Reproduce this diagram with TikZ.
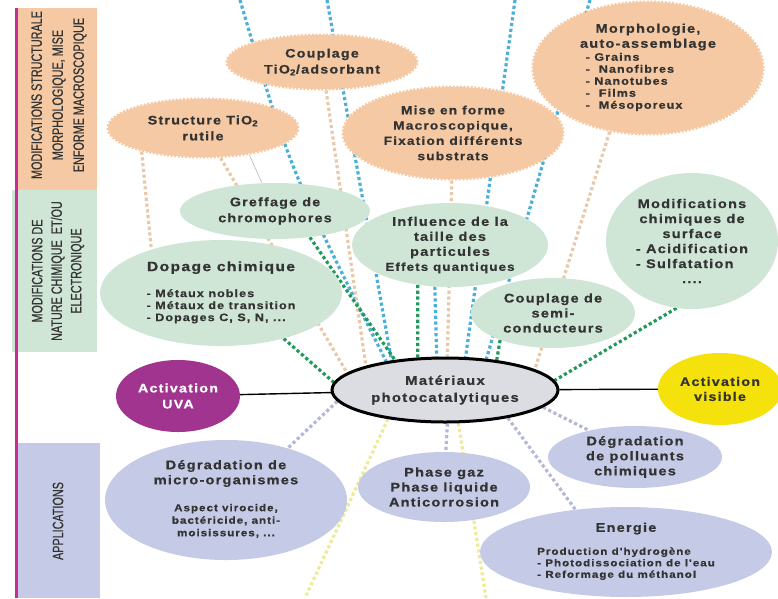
\documentclass[tikz,border=0pt]{standalone}
\usepackage{fontspec}
\setmainfont{Liberation Sans}
\newfontfamily\bubblefont{Liberation Sans}[FakeStretch=1.16,LetterSpace=10,BoldFeatures={FakeBold=0.7}]
\newfontfamily\bandfont{Liberation Sans}[FakeStretch=0.72,FakeBold=0.5]
\usetikzlibrary{shapes.geometric}
\pgfdeclarelayer{links}
\pgfsetlayers{links,main}

\definecolor{peach}{HTML}{F5C9A3}
\definecolor{mint}{HTML}{CFE6D6}
\definecolor{lav}{HTML}{C5CAE6}
\definecolor{plum}{HTML}{A0348F}
\definecolor{sun}{HTML}{F5E10C}
\definecolor{ink}{HTML}{333333}
\definecolor{sky}{HTML}{4BAFD8}
\definecolor{leaf}{HTML}{1E9A5A}
\definecolor{tanline}{HTML}{E9C9AB}
\definecolor{lilac}{HTML}{B4B8D6}
\definecolor{straw}{HTML}{EFEA96}
\definecolor{rose}{HTML}{C72C94}
\definecolor{core}{HTML}{DCDDE2}

\begin{document}
\begin{tikzpicture}[x=1pt,y=-1pt,
  bubble/.style={ellipse, inner sep=0pt, align=center, text=ink,
    font=\bubblefont\bfseries\fontsize{12.5}{15}\selectfont},
  orangeb/.style={bubble, fill=peach, draw=peach, line width=3pt,
    dash pattern=on 2pt off 1.6pt},
  greenb/.style={bubble, fill=mint},
  blueb/.style={bubble, fill=lav},
  bandtext/.style={rotate=90, align=center, text=ink, inner sep=0pt,
    font=\bandfont\fontsize{15}{21}\selectfont},
  link/.style={line width=3.2pt, dash pattern=on 3.2pt off 2.6pt},
  bar/.style={line width=1.4pt, black}]

\useasboundingbox (0,0) rectangle (778,598);
\clip (0,0) rectangle (778,598);

% side bands with their headings
\fill[peach] (16,8) rectangle (97,190);
\fill[mint] (12,190) rectangle (97,352);
\fill[lav] (16,443) rectangle (100,598);
\draw[rose, line width=2.6pt] (16.5,8) -- (16.5,598);

\node[bandtext] (bandA) at (59,95)
  {MODIFICATIONS STRUCTURALE\\MORPHOLOGIQUE, MISE\\ENFORME MACROSCOPIQUE};
\node[bandtext, font=\bandfont\fontsize{15}{19.5}\selectfont] (bandB) at (58,271)
  {MODIFICATIONS DE\\NATURE CHIMIQUE~ ET/OU\\ELECTRONIQUE};
\node[bandtext] (bandC) at (58,521) {APPLICATIONS};

% structural / morphological modifications
\node[orangeb, minimum width=230pt, minimum height=132pt] (morph) at (648,68)
  {Morphologie,\\auto-assemblage\\[-2pt]{\fontsize{10.8}{12}\selectfont
   \begin{tabular}[t]{@{}l@{}}- Grains\\-~~Nanofibres\\- Nanotubes\\-~~Films\\-~~Mésoporeux\end{tabular}}\hspace*{28pt}};
\node[orangeb, minimum width=220pt, minimum height=92pt,
  font=\bubblefont\bfseries\fontsize{11.8}{15.3}\selectfont] (mise) at (453,133)
  {Mise en forme\\Macroscopique,\\Fixation différents\\substrats};
\node[orangeb, minimum width=190pt, minimum height=54pt,
  font=\bubblefont\bfseries\fontsize{12.3}{16}\selectfont] (coupt) at (322,62)
  {Couplage\\TiO\textsubscript{2}/adsorbant};
\node[orangeb, minimum width=190pt, minimum height=58pt,
  font=\bubblefont\bfseries\fontsize{12.3}{16}\selectfont] (struct) at (203,128)
  {Structure TiO\textsubscript{2}\\rutile};

% chemical / electronic modifications
\node[greenb, minimum width=190pt, minimum height=56pt,
  font=\bubblefont\bfseries\fontsize{12.3}{16}\selectfont] (greff) at (275,211)
  {Greffage de\\chromophores};
\node[greenb, minimum width=242pt, minimum height=106pt,
  font=\bubblefont\bfseries\fontsize{13.5}{16}\selectfont] (dop) at (221,293)
  {Dopage chimique\\[10pt]{\fontsize{10.8}{12}\selectfont
   \begin{tabular}[t]{@{}l@{}}- Métaux nobles\\- Métaux de transition\\- Dopages C, S, N, ...\end{tabular}}};
\node[greenb, minimum width=196pt, minimum height=84pt] (infl) at (450,245)
  {Influence de la\\taille des\\particules\\{\fontsize{11.5}{14}\selectfont Effets quantiques}};
\node[greenb, minimum width=164pt, minimum height=70pt] (semi) at (553,313)
  {Couplage de\\semi-\\conducteurs};
\node[greenb, minimum width=172pt, minimum height=136pt] (modif) at (692,241)
  {Modifications\\chimiques de\\surface\\- Acidification\\\rlap{- Sulfatation}\phantom{- Acidification}\\....};

% activation and central material
\node[bubble, fill=plum, text=white, minimum width=124pt, minimum height=72pt,
  font=\bubblefont\bfseries\fontsize{12.3}{16}\selectfont] (uva) at (178,396)
  {Activation\\UVA};
\node[bubble, fill=sun, minimum width=124pt, minimum height=72pt,
  font=\bubblefont\bfseries\fontsize{12.3}{15}\selectfont] (vis) at (720,389)
  {Activation\\visible};
\node[bubble, fill=core, draw=black, line width=3pt, minimum width=226pt,
  minimum height=64pt, font=\bubblefont\bfseries\fontsize{12.8}{17}\selectfont] (mat) at (445,390)
  {Matériaux\\photocatalytiques};

% applications
\node[blueb, minimum width=242pt, minimum height=120pt] (micro) at (226,500)
  {Dégradation de\\micro-organismes\\[12pt]{\fontsize{10}{12.5}\selectfont
   \begin{tabular}[t]{@{}c@{}}Aspect virocide,\\bactéricide, anti-\\moisissures, ...\end{tabular}}};
\node[blueb, minimum width=172pt, minimum height=70pt] (phase) at (444,487)
  {Phase gaz\\Phase liquide\\Anticorrosion};
\node[blueb, minimum width=174pt, minimum height=62pt] (poll) at (635,457)
  {Dégradation\\de polluants\\chimiques};
\node[blueb, minimum width=292pt, minimum height=90pt] (energ) at (626,552)
  {Energie\\[8pt]{\fontsize{10}{11.5}\selectfont
   \begin{tabular}[t]{@{}l@{}}Production d'hydrogène\\- Photodissociation de l'eau\\- Reformage du méthanol\end{tabular}}};

% free ends of the links that leave the picture
\coordinate (topA) at (240,0);
\coordinate (topB) at (327,0);
\coordinate (topC) at (515,0);
\coordinate (topD) at (590,0);
\coordinate (botA) at (305,598);
\coordinate (botB) at (486,598);

\begin{pgfonlayer}{links}
  % blue links
  \draw[link, sky] (topA) .. controls (290,170) .. (mat.154);
  \draw[link, sky] (topB) -- (mat.151);
  \draw[link, sky] (topC) -- (mat.58);
  \draw[link, sky] (topD) -- (mat.37);
  \draw[link, sky] (infl.-110) -- (mat.104);
  % peach links
  \draw[link, tanline] (struct) -- (mat.170);
  \draw[link, tanline] (struct.-159) -- (dop.148);
  \draw[link, tanline] (coupt) -- (mat.163);
  \draw[link, tanline] (mise) -- (mat.86);
  \draw[link, tanline] (morph.-121) -- (mat.13);
  \draw[gray!55, line width=0.6pt] (struct.-30) -- (greff.115);
  % green links
  \draw[link, leaf] (greff.-37) -- (mat.149);
  \draw[link, leaf] (dop.-36) -- (mat.176);
  \draw[link, leaf] (infl.-129) -- (mat.130);
  \draw[link, leaf] (semi.-153) -- (mat.30);
  \draw[link, leaf] (modif.-103) -- (mat.5);
  % application links
  \draw[link, lilac] (mat.-174) -- (micro.40);
  \draw[link, lilac] (mat.-86) -- (phase.87);
  \draw[link, lilac] (mat.-24) -- (energ.140);
  \draw[link, lilac] (mat.-10) -- (poll.150);
  \draw[link, straw] (mat.-153) -- (botA);
  \draw[link, straw] (mat.-68) -- (botB);
  % activation bars
  \draw[bar] (uva) -- (mat);
  \draw[bar] (mat) -- (vis);
\end{pgfonlayer}
\end{tikzpicture}
\end{document}
